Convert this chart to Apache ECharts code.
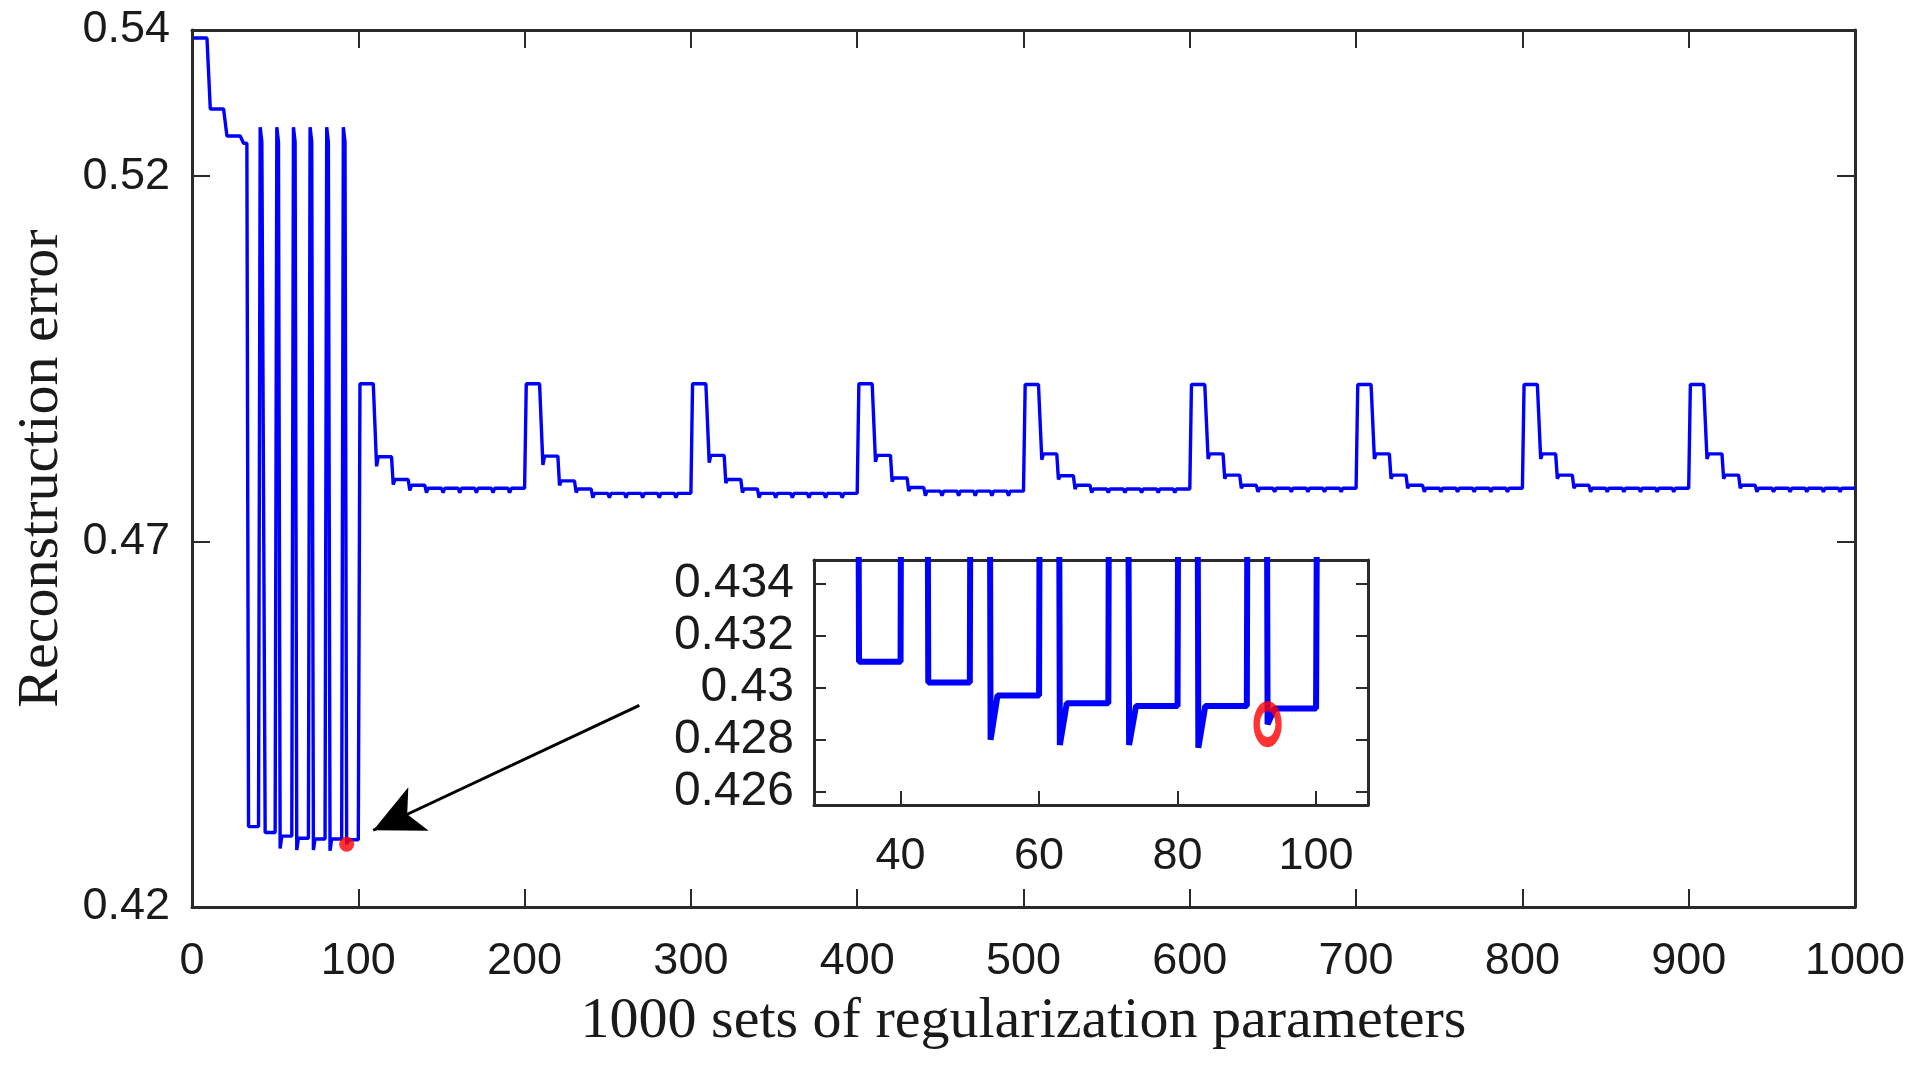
<!DOCTYPE html>
<html><head><meta charset="utf-8">
<script src="https://cdn.jsdelivr.net/npm/echarts@6/dist/echarts.min.js"></script>
<style>html,body{margin:0;padding:0;background:#fff}#c{width:1920px;height:1068px}</style>
</head><body><div id="c"></div><script>
// ---- tick labels ----
const mainXTicks = [0, 100, 200, 300, 400, 500, 600, 700, 800, 900, 1000];
const mainYTicks = [0.42, 0.47, 0.52, 0.54];
const insetXTicks = [40, 60, 80, 100];
const insetYTicks = [0.426, 0.428, 0.43, 0.432, 0.434];

// ---- first 100 parameter sets: runs of [count, error] ----
const block0Runs = [
  [10, 0.5389], [10, 0.5292], [10, 0.5255], [3, 0.5245],
  [7, 0.4310],
  [1, 0.5267], [2, 0.5247], [7, 0.4302],
  [1, 0.5267], [1, 0.5247], [1, 0.4280], [7, 0.4297],
  [1, 0.5267], [1, 0.5247], [1, 0.4278], [7, 0.4294],
  [1, 0.5267], [1, 0.5247], [1, 0.4278], [7, 0.4293],
  [1, 0.5267], [1, 0.5247], [1, 0.4277], [7, 0.4293],
  [1, 0.5267], [1, 0.5247], [1, 0.4286], [7, 0.4292]
];

// ---- blocks 101-200 ... 901-1000: levels read per block ----
const blockPeak    = [0.4916, 0.4916, 0.4916, 0.4916, 0.4915, 0.4915, 0.4915, 0.4915, 0.4915];
const blockL2Spike = [0.4803, 0.4805, 0.4808, 0.4809, 0.4812, 0.4813, 0.4813, 0.4813, 0.4813];
const blockL2      = [0.4816, 0.4817, 0.4818, 0.4818, 0.4820, 0.4820, 0.4820, 0.4820, 0.4820];
const blockL3Spike = [0.4778, 0.4777, 0.4780, 0.4782, 0.4785, 0.4786, 0.4786, 0.4786, 0.4786];
const blockL3      = [0.4785, 0.4783, 0.4785, 0.4787, 0.4790, 0.4791, 0.4791, 0.4791, 0.4791];
const blockL4Spike = [0.4770, 0.4767, 0.4767, 0.4769, 0.4772, 0.4773, 0.4773, 0.4773, 0.4773];
const blockL4      = [0.4777, 0.4772, 0.4772, 0.4774, 0.4777, 0.4777, 0.4777, 0.4777, 0.4777];
const blockBase    = [0.4773, 0.4766, 0.4766, 0.4769, 0.4772, 0.4773, 0.4773, 0.4773, 0.4773];
const blockDip     = [0.4767, 0.4760, 0.4760, 0.4763, 0.4767, 0.4768, 0.4768, 0.4768, 0.4768];

// ---- selected (minimum) set, and arrow annotation ends ----
const bestPoint = [93, 0.4286];
const arrowFrom = [269, 0.4476];
const arrowTo   = [109, 0.4305];

// build the 1000 values by expanding the runs read above
const runs = block0Runs.slice();
for (let b = 0; b < blockPeak.length; b++) {
  runs.push([10, blockPeak[b]]);
  runs.push([1, blockL2Spike[b]], [9, blockL2[b]]);
  runs.push([1, blockL3Spike[b]], [9, blockL3[b]]);
  runs.push([1, blockL4Spike[b]], [9, blockL4[b]]);
  for (let k = 0; k < 6; k++) runs.push([1, blockDip[b]], [9, blockBase[b]]);
}
const data = [];
let idx = 1;
runs.forEach(([n, v]) => { for (let i = 0; i < n; i++) data.push([idx++, v]); });

const ink = '#1a1a1a';
const frame = '#2a2a2a';
const sans = 'Liberation Sans';
const serif = 'Liberation Serif';

function frameAxis(extra) {
  return Object.assign({
    type: 'value',
    splitLine: { show: false },
    axisLine: { show: true, onZero: false, lineStyle: { color: frame, width: 3 } },
    axisTick: { show: true, inside: true, length: 18, lineStyle: { color: frame, width: 2 } },
  }, extra);
}

const chart = echarts.init(document.getElementById('c'));
chart.setOption({
  animation: false,
  backgroundColor: '#fff',
  grid: [
    { left: 192, top: 30, right: 65, bottom: 161 },
    { left: 814, top: 560, width: 554, height: 245, show: true, backgroundColor: '#fff', borderWidth: 0 }
  ],
  xAxis: [
    frameAxis({ gridIndex: 0, position: 'bottom', min: 0, max: 1000, interval: 100,
      axisLabel: { margin: 32, fontFamily: sans, fontSize: 45, color: ink, formatter: v => String(v) },
      name: '1000 sets of regularization parameters', nameLocation: 'middle', nameGap: 86,
      nameTextStyle: { fontFamily: serif, fontSize: 58, color: ink } }),
    frameAxis({ gridIndex: 0, position: 'top', min: 0, max: 1000, interval: 100, axisLabel: { show: false } }),
    frameAxis({ gridIndex: 1, position: 'bottom', min: 27.5, max: 107.5,
      axisTick: { show: true, inside: true, length: 14, customValues: insetXTicks, lineStyle: { color: frame, width: 2 } },
      axisLabel: { customValues: insetXTicks, margin: 29, fontFamily: sans, fontSize: 45, color: ink, formatter: v => String(v) } }),
    frameAxis({ gridIndex: 1, position: 'top', min: 27.5, max: 107.5,
      axisTick: { show: false }, axisLabel: { show: false } })
  ],
  yAxis: [
    frameAxis({ gridIndex: 0, position: 'left', min: 0.42, max: 0.54,
      axisTick: { show: true, inside: true, length: 18, customValues: mainYTicks, lineStyle: { color: frame, width: 2 } },
      axisLabel: { customValues: mainYTicks, margin: 22, fontFamily: sans, fontSize: 45, color: ink,
        formatter: v => v.toFixed(2) },
      name: 'Reconstruction error', nameLocation: 'middle', nameGap: 121,
      nameTextStyle: { fontFamily: serif, fontSize: 58, color: ink } }),
    frameAxis({ gridIndex: 0, position: 'right', min: 0.42, max: 0.54,
      axisTick: { show: true, inside: true, length: 18, customValues: mainYTicks, lineStyle: { color: frame, width: 2 } },
      axisLabel: { show: false } }),
    frameAxis({ gridIndex: 1, position: 'left', min: 0.4255, max: 0.4349,
      axisTick: { show: true, inside: true, length: 12, customValues: insetYTicks, lineStyle: { color: frame, width: 2 } },
      axisLabel: { customValues: insetYTicks, margin: 20, fontFamily: sans, fontSize: 48, color: ink,
        formatter: v => String(+v.toFixed(3)) } }),
    frameAxis({ gridIndex: 1, position: 'right', min: 0.4255, max: 0.4349,
      axisTick: { show: true, inside: true, length: 12, customValues: insetYTicks, lineStyle: { color: frame, width: 2 } },
      axisLabel: { show: false } })
  ],
  series: [
    {
      type: 'line', xAxisIndex: 0, yAxisIndex: 0, data: data,
      showSymbol: false, symbol: 'none', clip: true,
      lineStyle: { color: '#0000ff', width: 3.4 },
      markLine: {
        silent: true, animation: false,
        label: { show: false },
        lineStyle: { color: '#000', width: 3, type: 'solid' },
        data: [[
          { coord: arrowFrom, symbol: 'none' },
          { coord: arrowTo, symbol: 'arrow', symbolSize: [36, 50] }
        ]]
      }
    },
    {
      type: 'scatter', xAxisIndex: 0, yAxisIndex: 0, data: [bestPoint],
      symbol: 'circle', symbolSize: 15, itemStyle: { color: '#ff0000' }, z: 4
    },
    {
      type: 'line', xAxisIndex: 2, yAxisIndex: 2, data: data,
      showSymbol: false, symbol: 'none', clip: true,
      lineStyle: { color: '#0000ff', width: 6 }, z: 5
    },
    {
      type: 'scatter', xAxisIndex: 2, yAxisIndex: 2, data: [bestPoint],
      symbol: 'circle', symbolSize: [22, 36],
      itemStyle: { color: 'rgba(0,0,0,0)', borderColor: '#ff0000', borderWidth: 8 }, z: 6
    }
  ]
});
</script></body></html>
